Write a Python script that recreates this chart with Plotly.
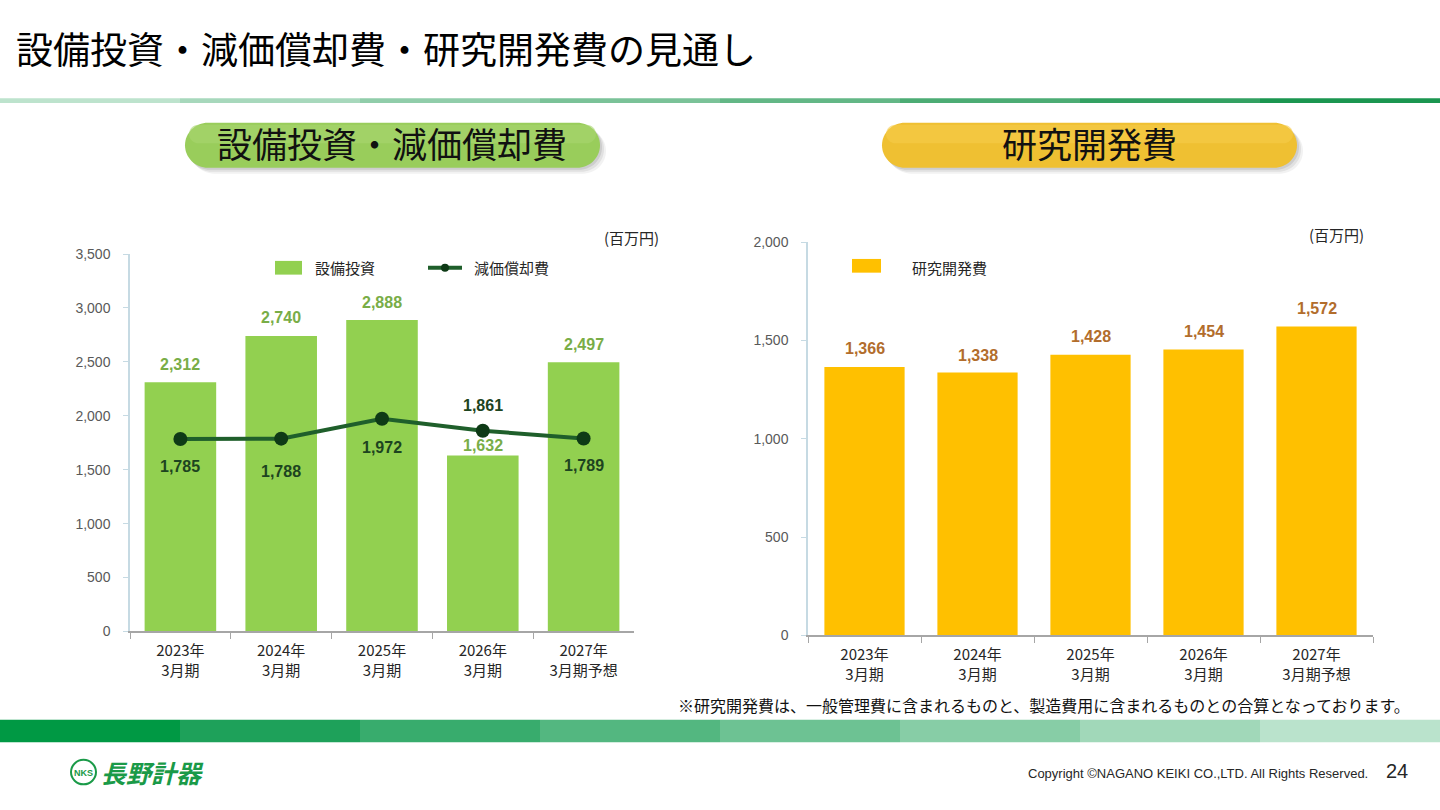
import plotly.graph_objects as go

# ---------------- data ----------------
categories = ["2023年<br>3月期", "2024年<br>3月期", "2025年<br>3月期", "2026年<br>3月期", "2027年<br>3月期予想"]
capex = [2312, 2740, 2888, 1632, 2497]          # 設備投資
depreciation = [1785, 1788, 1972, 1861, 1789]   # 減価償却費
rnd = [1366, 1338, 1428, 1454, 1572]            # 研究開発費
left_ticks = [0, 500, 1000, 1500, 2000, 2500, 3000, 3500]
right_ticks = [0, 500, 1000, 1500, 2000]

# label offsets (style, px)
capex_label_shift = [18, 18, 18, 10, 18]
dep_label_shift = [-28, -33, -29, 25, -27]
rnd_label_shift = [18, 17, 18, 18, 18]

W, H = 1440, 810
JP = "Noto Sans CJK JP"
NUM = "Liberation Sans, Arial, sans-serif"

def X(px):
    return px / W

def Y(py):
    return 1 - py / H

fig = go.Figure()

fig.add_trace(go.Bar(x=categories, y=capex, marker=dict(color="#92d050", line=dict(width=0)),
                     xaxis="x", yaxis="y", hoverinfo="skip", name="設備投資"))
fig.add_trace(go.Scatter(x=categories, y=depreciation, mode="lines+markers",
                         line=dict(color="#1f5f2b", width=4),
                         marker=dict(size=14, color="#0e3a16"),
                         xaxis="x", yaxis="y", hoverinfo="skip", name="減価償却費"))
fig.add_trace(go.Bar(x=categories, y=rnd, marker=dict(color="#ffc000", line=dict(width=0)),
                     xaxis="x2", yaxis="y2", hoverinfo="skip", name="研究開発費"))

annotations = []
shapes = []

for c, v, s in zip(categories, capex, capex_label_shift):
    annotations.append(dict(x=c, y=v, xref="x", yref="y", yshift=s, showarrow=False,
                            text=f"{v:,}", font=dict(family=NUM, size=16, color="#79ad47", weight="bold")))
for c, v, s in zip(categories, depreciation, dep_label_shift):
    annotations.append(dict(x=c, y=v, xref="x", yref="y", yshift=s, showarrow=False,
                            text=f"{v:,}", font=dict(family=NUM, size=16, color="#1d4420", weight="bold")))
for c, v, s in zip(categories, rnd, rnd_label_shift):
    annotations.append(dict(x=c, y=v, xref="x2", yref="y2", yshift=s, showarrow=False,
                            text=f"{v:,}", font=dict(family=NUM, size=16, color="#b26d2c", weight="bold")))

# ---------------- decorative frame ----------------
def txt(x, y, text, size, color="#000000", anchor="left", family=JP, **kw):
    font = dict(family=family, size=size, color=color)
    font.update(kw)
    annotations.append(dict(x=X(x), y=Y(y), xref="paper", yref="paper", text=text, showarrow=False,
                            xanchor=anchor, yanchor="middle", font=font))

def rect(x0, y0, x1, y1, color, **kw):
    d = dict(type="rect", xref="paper", yref="paper", x0=X(x0), x1=X(x1), y0=Y(y1), y1=Y(y0),
             fillcolor=color, line=dict(width=0), layer="below")
    d.update(kw)
    shapes.append(d)

def pill(x0, y0, x1, y1, color, opacity=1.0):
    r = (y1 - y0) / 2
    yc = (y0 + y1) / 2
    k = 0.5523 * r
    pts = lambda x, y: f"{X(x):.5f},{Y(y):.5f}"
    path = (f"M{pts(x0 + r, y0)} L{pts(x1 - r, y0)} "
            f"C{pts(x1 - r + k, y0)} {pts(x1, yc - k)} {pts(x1, yc)} "
            f"C{pts(x1, yc + k)} {pts(x1 - r + k, y1)} {pts(x1 - r, y1)} "
            f"L{pts(x0 + r, y1)} "
            f"C{pts(x0 + r - k, y1)} {pts(x0, yc + k)} {pts(x0, yc)} "
            f"C{pts(x0, yc - k)} {pts(x0 + r - k, y0)} {pts(x0 + r, y0)} Z")
    shapes.append(dict(type="path", xref="paper", yref="paper", path=path, fillcolor=color,
                       line=dict(width=0), opacity=opacity, layer="below"))

# title
txt(14, 41, "設備投資・減価償却費・研究開発費の見通し", 37, "#000000")

# top stripe
top_cols = ["#bde3cd", "#a7d8bc", "#90cdaa", "#7ac298", "#63b786", "#4cac74", "#33a162", "#1b9650"]
for i, c in enumerate(top_cols):
    rect(i * 180, 92, (i + 1) * 180, 97, c)

# bottom stripe
bot_cols = ["#009944", "#1ea15a", "#38ac6d", "#53b780", "#6dc293", "#87cda6", "#a1d8b9", "#bae3cc"]
for i, c in enumerate(bot_cols):
    rect(i * 180, 726, (i + 1) * 180, 749, c)

# pills with shadow
for dx, op in [(6, 0.10), (4, 0.15), (2, 0.2)]:
    pill(185 + dx, 117 + dx, 600 + dx, 163 + dx, "#7f7f7f", op)
    pill(882 + dx, 117 + dx, 1297 + dx, 163 + dx, "#7f7f7f", op)
pill(185, 117, 600, 163, "#99cd5b")
pill(189, 119, 596, 138, "#a8d66f", 0.6)
pill(882, 117, 1297, 163, "#efc032")
pill(886, 119, 1293, 138, "#f5cc4a", 0.6)
txt(392, 137, "設備投資・減価償却費", 35, "#111111", "center")
txt(1089, 137, "研究開発費", 35, "#111111", "center")

# units
txt(631, 234, "(百万円)", 15, "#262626", "center")
txt(1336, 231, "(百万円)", 15, "#262626", "center")

# left legend
rect(275, 258, 302, 272, "#92d050")
txt(313, 265, "設備投資", 15, "#262626")
shapes.append(dict(type="line", xref="paper", yref="paper", x0=X(428), x1=X(462), y0=Y(265), y1=Y(265),
                   line=dict(color="#1f5f2b", width=4)))
shapes.append(dict(type="circle", xref="paper", yref="paper", x0=X(441), x1=X(449), y0=Y(269), y1=Y(261),
                   fillcolor="#0e3a16", line=dict(width=0)))
txt(472, 265, "減価償却費", 15, "#262626")

# right legend
rect(852, 256, 881, 270, "#ffc000")
txt(910, 265, "研究開発費", 15, "#262626")

# footnote
txt(1412, 711, "※研究開発費は、一般管理費に含まれるものと、製造費用に含まれるものとの合算となっております。",
    16, "#111111", "right")

# footer
shapes.append(dict(type="circle", xref="paper", yref="paper", x0=X(71), x1=X(96), y0=Y(792), y1=Y(767),
                   line=dict(color="#1a9a48", width=2)))
txt(83.5, 780, "NKS", 9, "#1a9a48", "center", family=NUM, weight="bold")
txt(99, 779, "長野計器", 25, "#1a9a48", weight="bold", style="italic")
txt(1370, 781, "Copyright ©NAGANO KEIKI CO.,LTD. All Rights Reserved.", 13, "#262626", "right", family=NUM)
txt(1410, 778, "24", 20, "#262626", "right", family=NUM)

# ---------------- axes ----------------
xcommon = dict(type="category", showline=True, linecolor="#a6a6a6", linewidth=1.5, ticks="outside",
               tickson="boundaries", ticklen=6, tickcolor="#a6a6a6", showgrid=False, zeroline=False,
               tickfont=dict(family=JP, size=15, color="#262626"), fixedrange=True, ticklabelstandoff=5)
ycommon = dict(showline=True, linecolor="#c6dae3", linewidth=1.5, ticks="outside", ticklen=5,
               tickcolor="#c6dae3", showgrid=False, zeroline=False, tickformat=",",
               tickfont=dict(family=NUM, size=14, color="#595959"), fixedrange=True, ticklabelstandoff=10)

fig.update_layout(
    width=W, height=H, margin=dict(l=0, r=0, t=0, b=0),
    paper_bgcolor="white", plot_bgcolor="rgba(0,0,0,0)",
    showlegend=False, bargap=0.29,
    xaxis=dict(domain=[X(130), X(634)], anchor="y", **xcommon),
    yaxis=dict(domain=[Y(636), Y(251)], anchor="x", range=[0, 3500], tickvals=left_ticks, **ycommon),
    xaxis2=dict(domain=[X(808), X(1373)], anchor="y2", **xcommon),
    yaxis2=dict(domain=[Y(640), Y(239)], anchor="x2", range=[0, 2000], tickvals=right_ticks, **ycommon),
    annotations=annotations, shapes=shapes,
)

fig.write_html("out.html", config={"displayModeBar": False})
